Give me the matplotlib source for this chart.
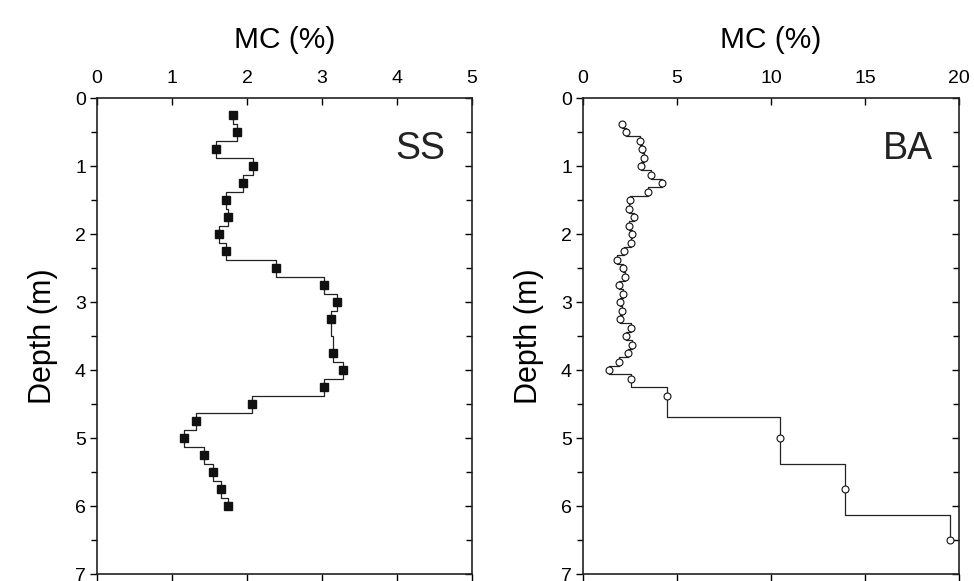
import numpy as np
import matplotlib
matplotlib.use("Agg")
import matplotlib.pyplot as plt
from matplotlib.ticker import MultipleLocator

plt.rcParams['font.family'] = ['Liberation Sans', 'DejaVu Sans']

# SS profile: moisture content (%) against depth (m)
ss_depth = [0.25, 0.5, 0.75, 1.0, 1.25, 1.5, 1.75, 2.0, 2.25, 2.5, 2.75, 3.0,
            3.25, 3.75, 4.0, 4.25, 4.5, 4.75, 5.0, 5.25, 5.5, 5.75, 6.0]
ss_mc = [1.81, 1.87, 1.59, 2.08, 1.95, 1.72, 1.75, 1.63, 1.72, 2.39, 3.03, 3.20,
         3.12, 3.14, 3.28, 3.03, 2.07, 1.32, 1.16, 1.43, 1.54, 1.65, 1.75]

# BA profile
ba_depth = [0.375, 0.5, 0.625, 0.75, 0.875, 1.0, 1.125, 1.25, 1.375, 1.5,
            1.625, 1.75, 1.875, 2.0, 2.125, 2.25, 2.375, 2.5, 2.625, 2.75,
            2.875, 3.0, 3.125, 3.25, 3.375, 3.5, 3.625, 3.75, 3.875, 4.0,
            4.125, 4.375, 5.0, 5.75, 6.5]
ba_mc = [2.07, 2.27, 3.01, 3.15, 3.24, 3.10, 3.63, 4.18, 3.43, 2.50,
         2.44, 2.69, 2.44, 2.58, 2.57, 2.16, 1.81, 2.11, 2.21, 1.89,
         2.12, 1.98, 2.07, 1.98, 2.53, 2.27, 2.58, 2.41, 1.89, 1.40,
         2.53, 4.44, 10.5, 13.96, 19.5]


# vertical step line: each value holds until halfway to the next depth
def depth_steps(mc, depth):
    mids = [(depth[i] + depth[i + 1]) / 2 for i in range(len(depth) - 1)]
    xs, ys = [mc[0]], [depth[0]]
    for i, m in enumerate(mids):
        xs += [mc[i], mc[i + 1]]
        ys += [m, m]
    xs.append(mc[-1])
    ys.append(depth[-1])
    return xs, ys


def style_axes(ax, xmax, xstep, tag):
    ax.set_xlim(0, xmax)
    ax.set_ylim(7, 0)
    ax.xaxis.set_major_locator(MultipleLocator(xstep))
    ax.yaxis.set_major_locator(MultipleLocator(1))
    ax.yaxis.set_minor_locator(MultipleLocator(0.5))
    ax.xaxis.tick_top()
    ax.xaxis.set_label_position('top')
    ax.tick_params(axis='x', which='major', top=True, bottom=False, direction='in',
                   length=5, width=1, labelsize=14, pad=8)
    ax.tick_params(axis='y', which='both', left=True, right=False, direction='out',
                   width=1, labelsize=14, pad=3)
    ax.tick_params(axis='y', which='major', length=5)
    ax.tick_params(axis='y', which='minor', length=4)
    # mirrored ticks: inward on the right, outward on the bottom
    sec_y = ax.secondary_yaxis('right')
    sec_y.yaxis.set_major_locator(MultipleLocator(1))
    sec_y.yaxis.set_minor_locator(MultipleLocator(0.5))
    sec_y.tick_params(which='both', direction='in', labelright=False, width=1)
    sec_y.tick_params(which='major', length=5)
    sec_y.tick_params(which='minor', length=4)
    sec_y.spines['right'].set_visible(False)
    sec_x = ax.secondary_xaxis('bottom')
    sec_x.xaxis.set_major_locator(MultipleLocator(xstep))
    sec_x.tick_params(direction='out', labelbottom=False, length=5, width=1)
    sec_x.spines['bottom'].set_visible(False)
    for s in ax.spines.values():
        s.set_linewidth(1.2)
        s.set_color('#222222')
    ax.set_xlabel('MC (%)', fontsize=21.5, labelpad=16)
    ax.set_ylabel('Depth (m)', fontsize=22, labelpad=12)
    ax.text(0.93, 0.93, tag, transform=ax.transAxes, fontsize=27,
            ha='right', va='top', color='#222222')


fig = plt.figure(figsize=(9.74, 5.81), dpi=100)
ax1 = fig.add_axes([0.0996, 0.012, 0.385, 0.819])
ax2 = fig.add_axes([0.5986, 0.012, 0.386, 0.819])

xs, ys = depth_steps(ss_mc, ss_depth)
ax1.plot(xs, ys, color='#222222', lw=0.9)
ax1.plot(ss_mc, ss_depth, 's', color='#111111', ms=5.2, ls='none')
style_axes(ax1, 5, 1, 'SS')

xs, ys = depth_steps(ba_mc, ba_depth)
ax2.plot(xs, ys, color='#222222', lw=0.9)
ax2.plot(ba_mc, ba_depth, 'o', mfc='white', mec='#111111', mew=0.8, ms=5, ls='none')
style_axes(ax2, 20, 5, 'BA')

fig.savefig('out.png', dpi=100)
